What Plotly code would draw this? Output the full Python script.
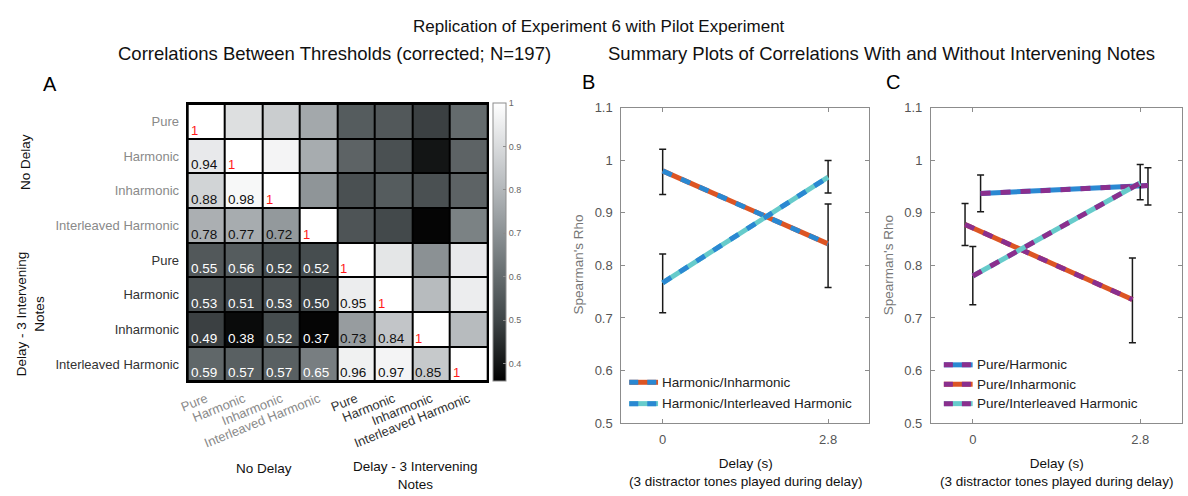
import plotly.graph_objects as go

W, H = 1188, 496

# ---------------- data ----------------
labels = ["Pure", "Harmonic", "Inharmonic", "Interleaved Harmonic",
          "Pure", "Harmonic", "Inharmonic", "Interleaved Harmonic"]
group_labels = ["No Delay", "Delay - 3 Intervening<br>Notes"]

# lower triangle (printed, corrected correlations), row by row incl. diagonal
corr_lower = [
    [1],
    [0.94, 1],
    [0.88, 0.98, 1],
    [0.78, 0.77, 0.72, 1],
    [0.55, 0.56, 0.52, 0.52, 1],
    [0.53, 0.51, 0.53, 0.50, 0.95, 1],
    [0.49, 0.38, 0.52, 0.37, 0.73, 0.84, 1],
    [0.59, 0.57, 0.57, 0.65, 0.96, 0.97, 0.85, 1],
]
# upper triangle (shaded only, estimated), row by row right of the diagonal
corr_upper = [
    [0.91, 0.86, 0.76, 0.56, 0.55, 0.49, 0.60],
    [0.97, 0.77, 0.58, 0.53, 0.40, 0.58],
    [0.71, 0.53, 0.56, 0.53, 0.58],
    [0.54, 0.51, 0.37, 0.66],
    [0.93, 0.70, 0.94],
    [0.81, 0.95],
    [0.81],
    [],
]
cbar_ticks = [0.4, 0.5, 0.6, 0.7, 0.8, 0.9, 1.0]

delays = [0, 2.8]
delay_ticktext = ["0", "2.8"]
rho_ticks = [0.5, 0.6, 0.7, 0.8, 0.9, 1.0, 1.1]

# Panel B
b_names = ["Harmonic/Inharmonic", "Harmonic/Interleaved Harmonic"]
b_rho = [[0.980, 0.841], [0.767, 0.968]]
b_hi = [[1.021, 0.917], [0.822, 1.000]]
b_lo = [[0.935, 0.758], [0.710, 0.938]]

# Panel C
c_names = ["Pure/Harmonic", "Pure/Inharmonic", "Pure/Interleaved Harmonic"]
c_rho = [[0.937, 0.952], [0.878, 0.735], [0.780, 0.957]]
c_hi = [[0.972, 0.986], [0.918, 0.814], [0.836, 0.992]]
c_lo = [[0.902, 0.915], [0.838, 0.653], [0.725, 0.925]]

# ---------------- styles ----------------
FONT = "Liberation Sans, Arial, Helvetica, sans-serif"
ORANGE = "#dc5524"
BLUE = "#2a88d2"
TEAL = "#66cbcb"
PURPLE = "#8a2f8e"
b_base = [ORANGE, TEAL]
b_dash = [BLUE, BLUE]
c_base = [BLUE, ORANGE, TEAL]
c_dash = [PURPLE, PURPLE, PURPLE]
c_offset = [0.13, -0.13, 0.0]
DASH = "10px,10px"
LW = 5

def px_x(p):
    return p / W

def px_y(p):
    return 1 - p / H

# full matrix
n = len(labels)
Z = [[None] * n for _ in range(n)]
for i in range(n):
    for j, v in enumerate(corr_lower[i]):
        Z[i][j] = v
    for k, v in enumerate(corr_upper[i]):
        Z[i][i + 1 + k] = v

fig = go.Figure()

colorscale = [
    [0.0, "#000000"],
    [0.0625, "#131515"],
    [0.21875, "#3f4547"],
    [0.375, "#646b6d"],
    [0.53125, "#8b9194"],
    [0.6875, "#b3b7ba"],
    [0.84375, "#d9dbdd"],
    [1.0, "#ffffff"],
]

fig.add_trace(go.Heatmap(
    z=Z, x=list(range(n)), y=list(range(n)),
    zmin=0.36, zmax=1.0, colorscale=colorscale,
    xgap=2, ygap=2, hoverinfo="skip",
    xaxis="x", yaxis="y",
    colorbar=dict(
        x=px_x(488), xanchor="left", xref="paper",
        y=px_y(99), yanchor="top", yref="paper",
        len=287 / H, lenmode="fraction",
        thickness=13, xpad=0, ypad=0,
        outlinecolor="#8c8c8c", outlinewidth=1,
        tickvals=cbar_ticks, ticktext=[f"{t:g}" for t in cbar_ticks],
        ticks="inside", ticklen=3, tickcolor="#8c8c8c",
        tickfont=dict(size=9, color="#666666", family=FONT),
    ),
))

annotations = []
for i in range(n):
    for j, v in enumerate(corr_lower[i]):
        if i == j:
            txt_, col, sz = "1", "#ff1a1a", 13
        else:
            txt_ = f"{v:.2f}"
            col = "#ffffff" if v < 0.7 else "#111111"
            sz = 13.5
        annotations.append(dict(
            x=j - 0.5, y=i + 0.5, xref="x", yref="y", text=txt_,
            showarrow=False, xanchor="left", yanchor="bottom",
            xshift=1, yshift=-1,
            font=dict(size=sz, color=col, family=FONT),
        ))

def colored(lbl, idx):
    c = "#8a8a8a" if idx < 4 else "#333333"
    return f"<span style='color:{c}'>{lbl}</span>"

ticktext = [colored(l, i) for i, l in enumerate(labels)]

layout_axes = dict(
    xaxis=dict(domain=[px_x(180), px_x(482)], anchor="y",
               range=[-0.5, n - 0.5], tickvals=list(range(n)),
               ticktext=ticktext, tickangle=-22, showgrid=False,
               zeroline=False, showline=True, linecolor="#000000",
               linewidth=2, mirror=True, ticks="", ticklabelstandoff=3,
               tickfont=dict(size=13, family=FONT)),
    yaxis=dict(domain=[px_y(386), px_y(100)], anchor="x",
               range=[n - 0.5, -0.5], tickvals=list(range(n)),
               ticktext=ticktext, showgrid=False, zeroline=False,
               showline=True, linecolor="#000000", linewidth=2,
               mirror=True, ticks="", ticklabelstandoff=4,
               tickfont=dict(size=13, family=FONT)),
)

def line_axes(xdom, xname, yname):
    ax = dict(domain=xdom, anchor=yname, range=[-0.7, 3.5],
              tickvals=delays, ticktext=delay_ticktext,
              showgrid=False, zeroline=False, showline=True,
              linecolor="#8c8c8c", linewidth=1, mirror="ticks",
              ticks="inside", ticklen=4, tickcolor="#8c8c8c",
              ticklabelstandoff=4,
              tickfont=dict(size=13, color="#555555", family=FONT))
    ay = dict(domain=[px_y(429), px_y(104)], anchor=xname,
              range=[0.5, 1.1], tickvals=rho_ticks,
              ticktext=[f"{t:g}" for t in rho_ticks],
              showgrid=False, zeroline=False, showline=True,
              linecolor="#8c8c8c", linewidth=1, mirror="ticks",
              ticks="inside", ticklen=4, tickcolor="#8c8c8c",
              ticklabelstandoff=5,
              tickfont=dict(size=13, color="#555555", family=FONT))
    return ax, ay

ax2, ay2 = line_axes([px_x(617), px_x(867)], "x2", "y2")
ax3, ay3 = line_axes([px_x(929), px_x(1182)], "x3", "y3")

def add_series(xs, rho, hi, lo, base, dash, xa, ya):
    fig.add_trace(go.Scatter(
        x=xs, y=rho, mode="lines", xaxis=xa, yaxis=ya,
        line=dict(color=base, width=LW), showlegend=False, hoverinfo="skip",
        error_y=dict(type="data", symmetric=False,
                     array=[h - r for h, r in zip(hi, rho)],
                     arrayminus=[r - l for r, l in zip(rho, lo)],
                     color="#1a1a1a", thickness=1.5, width=3.5),
    ))
    fig.add_trace(go.Scatter(
        x=xs, y=rho, mode="lines", xaxis=xa, yaxis=ya,
        line=dict(color=dash, width=LW, dash=DASH),
        showlegend=False, hoverinfo="skip",
    ))

for k in range(len(b_names)):
    add_series(delays, b_rho[k], b_hi[k], b_lo[k], b_base[k], b_dash[k], "x2", "y2")
for k in range(len(c_names)):
    xs = [d + c_offset[k] for d in delays]
    add_series(xs, c_rho[k], c_hi[k], c_lo[k], c_base[k], c_dash[k], "x3", "y3")

# black backing for the heatmap cell borders
shapes = [dict(type="rect", xref="x", yref="y", x0=-0.5, x1=n - 0.5,
               y0=-0.5, y1=n - 0.5, fillcolor="#000000",
               line=dict(width=0), layer="below")]

# custom legends (two-coloured dashed samples)
def legend(names, bases, dashes, x0, y0, dy):
    for k, nm in enumerate(names):
        yy = px_y(y0 + k * dy)
        shapes.append(dict(type="line", xref="paper", yref="paper",
                           x0=px_x(x0), x1=px_x(x0 + 29), y0=yy, y1=yy,
                           line=dict(color=bases[k], width=LW)))
        shapes.append(dict(type="line", xref="paper", yref="paper",
                           x0=px_x(x0), x1=px_x(x0 + 29), y0=yy, y1=yy,
                           line=dict(color=dashes[k], width=LW, dash="9px,9px")))
        annotations.append(dict(x=px_x(x0 + 31), y=yy, xref="paper", yref="paper",
                                text=nm, showarrow=False, xanchor="left",
                                yanchor="middle",
                                font=dict(size=13.5, color="#222222", family=FONT)))

legend(b_names, b_base, b_dash, 625, 387, 22)
legend(c_names, c_base, c_dash, 942, 369, 20)

def txt(x, y, s, size=13, color="#111111", angle=0, xanchor="center",
        yanchor="middle"):
    annotations.append(dict(x=px_x(x), y=px_y(y), xref="paper", yref="paper",
                            text=s, showarrow=False, textangle=angle,
                            xanchor=xanchor, yanchor=yanchor,
                            font=dict(size=size, color=color, family=FONT)))

txt(594, 20, "Replication of Experiment 6 with Pilot Experiment", size=17)
txt(328, 48, "Correlations Between Thresholds (corrected; N=197)", size=18.5)
txt(879, 48, "Summary Plots of Correlations With and Without Intervening Notes", size=18.5)
txt(41, 79, "A", size=20, color="#000000")
txt(584, 77, "B", size=20, color="#000000")
txt(891, 77, "C", size=20, color="#000000")

# heatmap group labels
txt(257, 476, group_labels[0], size=13.5)
txt(410, 483, group_labels[1], size=13.5)
txt(16, 160, group_labels[0], size=13.5, angle=-90)
txt(22, 316, group_labels[1], size=13.5, angle=-90)

# line-plot axis titles
for cx, yx in [(742, 574), (1055, 887)]:
    txt(cx, 461, "Delay (s)<br>(3 distractor tones played during delay)",
        size=13.5, yanchor="top")
    txt(yx, 266, "Spearman's Rho", size=13.5, color="#777777", angle=-90)

fig.update_layout(
    width=W, height=H,
    margin=dict(l=0, r=0, t=0, b=0),
    paper_bgcolor="white", plot_bgcolor="white",
    font=dict(family=FONT),
    showlegend=False,
    annotations=annotations, shapes=shapes,
    xaxis2=ax2, yaxis2=ay2, xaxis3=ax3, yaxis3=ay3,
    **layout_axes,
)

fig.write_html("out.html")
